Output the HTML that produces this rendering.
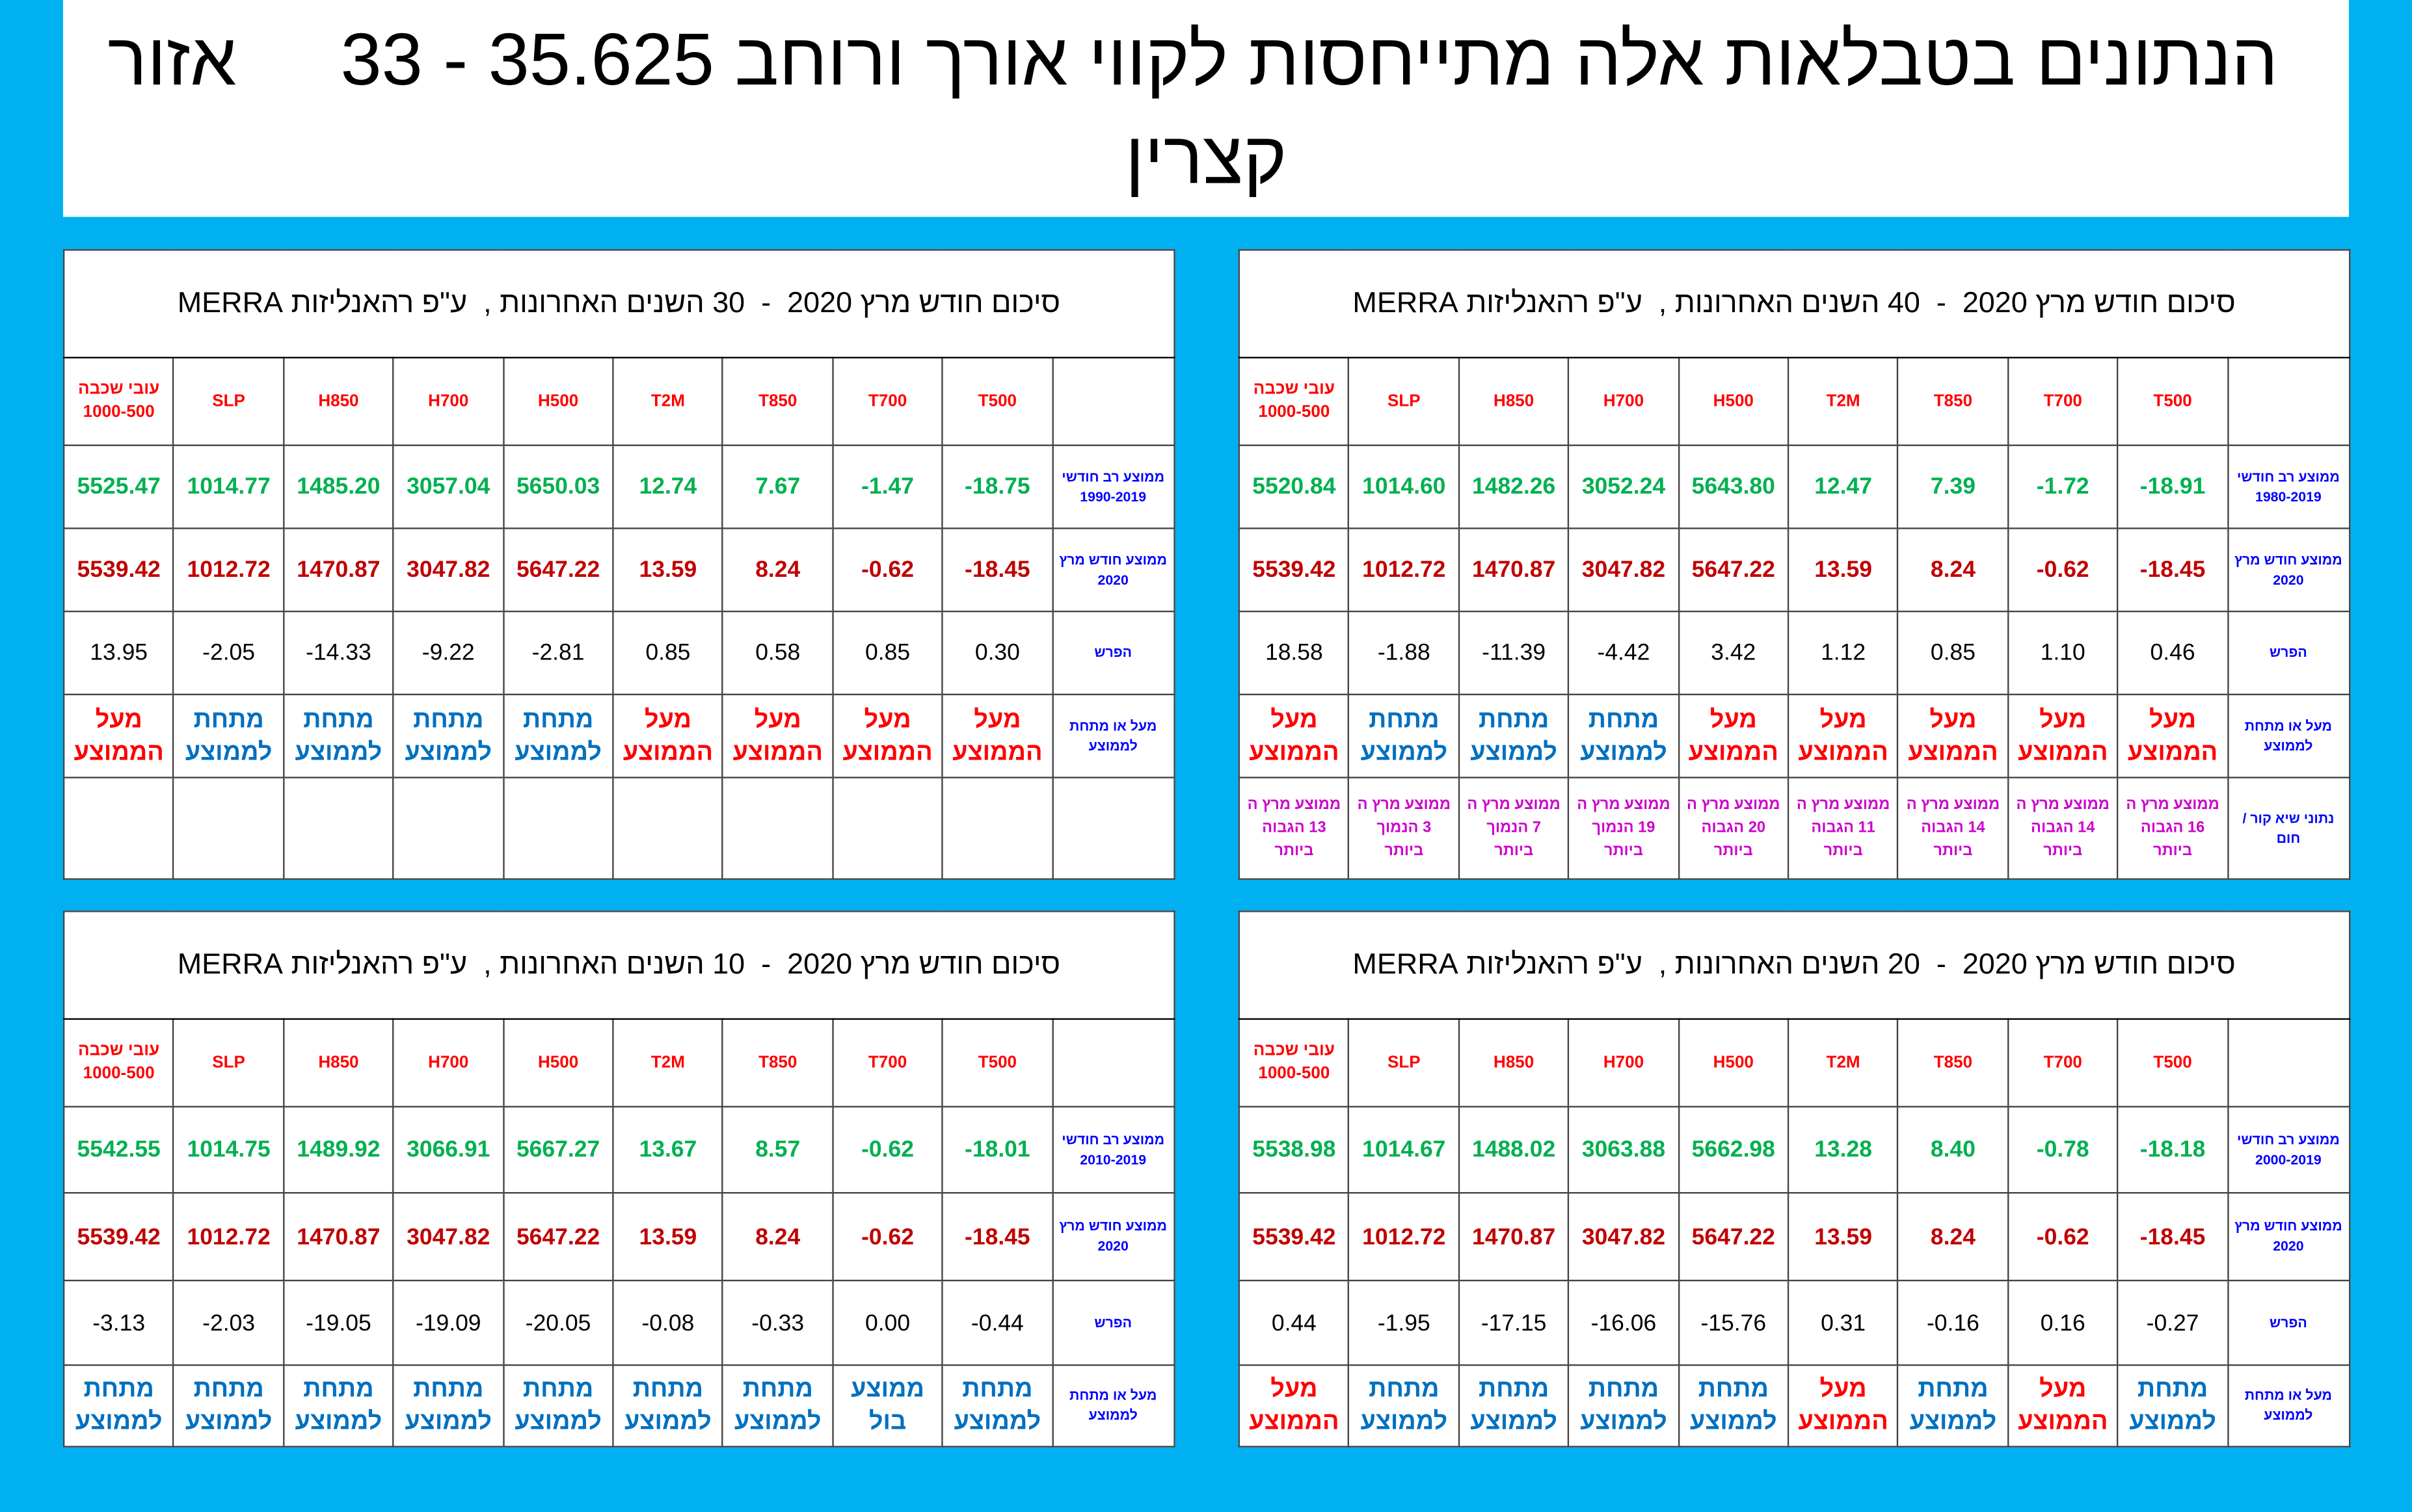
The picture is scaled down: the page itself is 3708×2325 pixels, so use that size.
<!DOCTYPE html>
<html><head><meta charset="utf-8"><style>
html,body{margin:0;padding:0;}
body{width:3708px;height:2325px;overflow:hidden;background:#00B0F0;}
#c{position:absolute;left:0;top:0;width:1568px;height:983px;transform:scale(2.3648,2.3652);transform-origin:0 0;font-family:"Liberation Sans","DejaVu Sans",sans-serif;}
.tb{position:absolute;left:41px;top:0;width:1486px;height:141px;background:#fff;}
.t1{position:absolute;right:46px;top:16px;font-size:48px;white-space:nowrap;direction:rtl;color:#000;line-height:1;}
.t2{position:absolute;left:29px;top:16px;font-size:48px;line-height:1;}
.t3{position:absolute;left:0;width:1486px;text-align:center;top:80px;font-size:48px;line-height:1;}
table{position:absolute;border-collapse:collapse;table-layout:fixed;width:722px;background:#fff;direction:rtl;border:1.5px solid #000;}
td{border:1px solid #444;text-align:center;vertical-align:middle;padding:0;overflow:hidden;}
td.h{font-size:19px;height:69px;border-bottom:1.5px solid #000;direction:rtl;}
tr.hd td{color:#f00;font-weight:bold;font-size:11px;line-height:15px;}
tr.g td{color:#00B050;font-weight:bold;font-size:15px;direction:ltr;}
tr.r td{color:#C00000;font-weight:bold;font-size:15px;direction:ltr;}
tr.d td{color:#000;font-size:15px;direction:ltr;}
tr.ab td{font-weight:bold;font-size:16px;line-height:21px;}
tr.m td{color:#CC00CC;font-weight:bold;font-size:10px;line-height:15px;}
td.l{color:#0000FF !important;font-size:9px !important;font-weight:bold;line-height:13px !important;direction:rtl !important;}
.up{color:#f00}.dn{color:#0070C0}
</style></head><body><div id="c">
<div class="tb">
<div class="t1">הנתונים בטבלאות אלה מתייחסות לקווי אורך ורוחב 35.625 - 33</div>
<div class="t2">אזור</div>
<div class="t3">קצרין</div>
</div>

<!-- top right: 40 -->
<table style="left:805px;top:162px">
<colgroup><col style="width:79px"><col span="9" style="width:71.4px"></colgroup>
<tr><td class="h" colspan="10">סיכום חודש מרץ 2020&nbsp; - &nbsp;40 השנים האחרונות ,&nbsp; ע"פ רהאנליזות MERRA</td></tr>
<tr class="hd" style="height:57px"><td></td><td>T500</td><td>T700</td><td>T850</td><td>T2M</td><td>H500</td><td>H700</td><td>H850</td><td>SLP</td><td>עובי שכבה<br>1000-500</td></tr>
<tr class="g" style="height:54px"><td class="l">ממוצע רב חודשי<br>1980-2019</td><td>-18.91</td><td>-1.72</td><td>7.39</td><td>12.47</td><td>5643.80</td><td>3052.24</td><td>1482.26</td><td>1014.60</td><td>5520.84</td></tr>
<tr class="r" style="height:54px"><td class="l">ממוצע חודש מרץ<br>2020</td><td>-18.45</td><td>-0.62</td><td>8.24</td><td>13.59</td><td>5647.22</td><td>3047.82</td><td>1470.87</td><td>1012.72</td><td>5539.42</td></tr>
<tr class="d" style="height:54px"><td class="l">הפרש</td><td>0.46</td><td>1.10</td><td>0.85</td><td>1.12</td><td>3.42</td><td>-4.42</td><td>-11.39</td><td>-1.88</td><td>18.58</td></tr>
<tr class="ab" style="height:54px"><td class="l">מעל או מתחת<br>לממוצע</td><td class="up">מעל<br>הממוצע</td><td class="up">מעל<br>הממוצע</td><td class="up">מעל<br>הממוצע</td><td class="up">מעל<br>הממוצע</td><td class="up">מעל<br>הממוצע</td><td class="dn">מתחת<br>לממוצע</td><td class="dn">מתחת<br>לממוצע</td><td class="dn">מתחת<br>לממוצע</td><td class="up">מעל<br>הממוצע</td></tr>
<tr class="m" style="height:66px"><td class="l">נתוני שיא קור /<br>חום</td><td>ממוצע מרץ ה<br>16 הגבוה<br>ביותר</td><td>ממוצע מרץ ה<br>14 הגבוה<br>ביותר</td><td>ממוצע מרץ ה<br>14 הגבוה<br>ביותר</td><td>ממוצע מרץ ה<br>11 הגבוה<br>ביותר</td><td>ממוצע מרץ ה<br>20 הגבוה<br>ביותר</td><td>ממוצע מרץ ה<br>19 הנמוך<br>ביותר</td><td>ממוצע מרץ ה<br>7 הנמוך<br>ביותר</td><td>ממוצע מרץ ה<br>3 הנמוך<br>ביותר</td><td>ממוצע מרץ ה<br>13 הגבוה<br>ביותר</td></tr>
</table>

<!-- top left: 30 -->
<table style="left:41px;top:162px">
<colgroup><col style="width:79px"><col span="9" style="width:71.4px"></colgroup>
<tr><td class="h" colspan="10">סיכום חודש מרץ 2020&nbsp; - &nbsp;30 השנים האחרונות ,&nbsp; ע"פ רהאנליזות MERRA</td></tr>
<tr class="hd" style="height:57px"><td></td><td>T500</td><td>T700</td><td>T850</td><td>T2M</td><td>H500</td><td>H700</td><td>H850</td><td>SLP</td><td>עובי שכבה<br>1000-500</td></tr>
<tr class="g" style="height:54px"><td class="l">ממוצע רב חודשי<br>1990-2019</td><td>-18.75</td><td>-1.47</td><td>7.67</td><td>12.74</td><td>5650.03</td><td>3057.04</td><td>1485.20</td><td>1014.77</td><td>5525.47</td></tr>
<tr class="r" style="height:54px"><td class="l">ממוצע חודש מרץ<br>2020</td><td>-18.45</td><td>-0.62</td><td>8.24</td><td>13.59</td><td>5647.22</td><td>3047.82</td><td>1470.87</td><td>1012.72</td><td>5539.42</td></tr>
<tr class="d" style="height:54px"><td class="l">הפרש</td><td>0.30</td><td>0.85</td><td>0.58</td><td>0.85</td><td>-2.81</td><td>-9.22</td><td>-14.33</td><td>-2.05</td><td>13.95</td></tr>
<tr class="ab" style="height:54px"><td class="l">מעל או מתחת<br>לממוצע</td><td class="up">מעל<br>הממוצע</td><td class="up">מעל<br>הממוצע</td><td class="up">מעל<br>הממוצע</td><td class="up">מעל<br>הממוצע</td><td class="dn">מתחת<br>לממוצע</td><td class="dn">מתחת<br>לממוצע</td><td class="dn">מתחת<br>לממוצע</td><td class="dn">מתחת<br>לממוצע</td><td class="up">מעל<br>הממוצע</td></tr>
<tr class="m" style="height:66px"><td></td><td></td><td></td><td></td><td></td><td></td><td></td><td></td><td></td><td></td></tr>
</table>

<!-- bottom left: 10 -->
<table style="left:41px;top:592px">
<colgroup><col style="width:79px"><col span="9" style="width:71.4px"></colgroup>
<tr><td class="h" colspan="10">סיכום חודש מרץ 2020&nbsp; - &nbsp;10 השנים האחרונות ,&nbsp; ע"פ רהאנליזות MERRA</td></tr>
<tr class="hd" style="height:57px"><td></td><td>T500</td><td>T700</td><td>T850</td><td>T2M</td><td>H500</td><td>H700</td><td>H850</td><td>SLP</td><td>עובי שכבה<br>1000-500</td></tr>
<tr class="g" style="height:56px"><td class="l">ממוצע רב חודשי<br>2010-2019</td><td>-18.01</td><td>-0.62</td><td>8.57</td><td>13.67</td><td>5667.27</td><td>3066.91</td><td>1489.92</td><td>1014.75</td><td>5542.55</td></tr>
<tr class="r" style="height:57px"><td class="l">ממוצע חודש מרץ<br>2020</td><td>-18.45</td><td>-0.62</td><td>8.24</td><td>13.59</td><td>5647.22</td><td>3047.82</td><td>1470.87</td><td>1012.72</td><td>5539.42</td></tr>
<tr class="d" style="height:55px"><td class="l">הפרש</td><td>-0.44</td><td>0.00</td><td>-0.33</td><td>-0.08</td><td>-20.05</td><td>-19.09</td><td>-19.05</td><td>-2.03</td><td>-3.13</td></tr>
<tr class="ab" style="height:53px"><td class="l">מעל או מתחת<br>לממוצע</td><td class="dn">מתחת<br>לממוצע</td><td class="dn">ממוצע<br>בול</td><td class="dn">מתחת<br>לממוצע</td><td class="dn">מתחת<br>לממוצע</td><td class="dn">מתחת<br>לממוצע</td><td class="dn">מתחת<br>לממוצע</td><td class="dn">מתחת<br>לממוצע</td><td class="dn">מתחת<br>לממוצע</td><td class="dn">מתחת<br>לממוצע</td></tr>
</table>

<!-- bottom right: 20 -->
<table style="left:805px;top:592px">
<colgroup><col style="width:79px"><col span="9" style="width:71.4px"></colgroup>
<tr><td class="h" colspan="10">סיכום חודש מרץ 2020&nbsp; - &nbsp;20 השנים האחרונות ,&nbsp; ע"פ רהאנליזות MERRA</td></tr>
<tr class="hd" style="height:57px"><td></td><td>T500</td><td>T700</td><td>T850</td><td>T2M</td><td>H500</td><td>H700</td><td>H850</td><td>SLP</td><td>עובי שכבה<br>1000-500</td></tr>
<tr class="g" style="height:56px"><td class="l">ממוצע רב חודשי<br>2000-2019</td><td>-18.18</td><td>-0.78</td><td>8.40</td><td>13.28</td><td>5662.98</td><td>3063.88</td><td>1488.02</td><td>1014.67</td><td>5538.98</td></tr>
<tr class="r" style="height:57px"><td class="l">ממוצע חודש מרץ<br>2020</td><td>-18.45</td><td>-0.62</td><td>8.24</td><td>13.59</td><td>5647.22</td><td>3047.82</td><td>1470.87</td><td>1012.72</td><td>5539.42</td></tr>
<tr class="d" style="height:55px"><td class="l">הפרש</td><td>-0.27</td><td>0.16</td><td>-0.16</td><td>0.31</td><td>-15.76</td><td>-16.06</td><td>-17.15</td><td>-1.95</td><td>0.44</td></tr>
<tr class="ab" style="height:53px"><td class="l">מעל או מתחת<br>לממוצע</td><td class="dn">מתחת<br>לממוצע</td><td class="up">מעל<br>הממוצע</td><td class="dn">מתחת<br>לממוצע</td><td class="up">מעל<br>הממוצע</td><td class="dn">מתחת<br>לממוצע</td><td class="dn">מתחת<br>לממוצע</td><td class="dn">מתחת<br>לממוצע</td><td class="dn">מתחת<br>לממוצע</td><td class="up">מעל<br>הממוצע</td></tr>
</table>
</div></body></html>
